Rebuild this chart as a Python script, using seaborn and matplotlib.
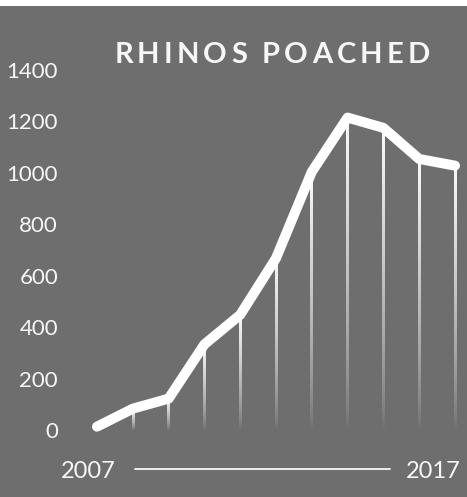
import numpy as np
import pandas as pd
import matplotlib
matplotlib.use("Agg")
import matplotlib.pyplot as plt
from matplotlib.patches import Rectangle
from matplotlib.lines import Line2D
import seaborn as sns

years = [2007, 2008, 2009, 2010, 2011, 2012, 2013, 2014, 2015, 2016, 2017]
poached = [13, 83, 122, 333, 448, 668, 1004, 1215, 1175, 1054, 1028]
yticks = [0, 200, 400, 600, 800, 1000, 1200, 1400]
title = "RHINOS POACHED"
start_label = "2007"
end_label = "2017"

BG = "#6e6e6e"
FG = "#f7f7f7"

sns.set_style("dark", {"axes.facecolor": BG, "figure.facecolor": BG})
plt.rcParams["font.family"] = ["Lato", "DejaVu Sans"]

W, H = 467, 497
fig = plt.figure(figsize=(W / 100, H / 100), dpi=100, facecolor=BG)
ax = fig.add_axes([90 / W, 57 / H, 372 / W, 380 / H])
ax.set_facecolor(BG)

df = pd.DataFrame({"year": years, "poached": poached})

# gradient vertical drop lines: white at the top fading into the background
n = 256
alpha = 0.97 * (np.linspace(1, 0, n) ** 0.75)
grad = np.ones((n, 1, 4))
grad[:, 0, 3] = alpha
half_w = 1.3 / 35.8  # ~1.3 px each side
for x, v in zip(years[1:], poached[1:]):
    ax.imshow(grad, extent=[x - half_w, x + half_w, 0, v], aspect="auto",
              interpolation="bilinear", origin="upper", zorder=2)

sns.lineplot(data=df, x="year", y="poached", ax=ax, color="white", linewidth=7.2,
             solid_capstyle="round", solid_joinstyle="round", zorder=5)

ax.set_xlim(2006.804, 2017.196)
ax.set_ylim(-38.9, 1438.9)
ax.set_aspect("auto")
ax.set_yticks(yticks)
ax.set_yticklabels([str(t) for t in yticks], color=FG, fontsize=16)
ax.tick_params(axis="y", length=0, pad=23)
ax.set_xticks([])
ax.set_xlabel("")
ax.set_ylabel("")
ax.grid(False)
for s in ax.spines.values():
    s.set_visible(False)

# letter-spaced title, drawn character by character
renderer = fig.canvas.get_renderer()
title_kw = dict(color=FG, fontsize=21, fontweight="bold", va="center", ha="left")
spacing = 4.2  # px between letters
widths = []
for ch in title:
    t = fig.text(0, 0, ch if ch != " " else "I", **title_kw)
    w = t.get_window_extent(renderer).width
    t.remove()
    widths.append(w * (0.75 if ch == " " else 1.0))
total = sum(widths) + spacing * (len(title) - 1)
x0 = 272 - total / 2
for ch, w in zip(title, widths):
    if ch != " ":
        fig.text(x0 / W, 1 - 55 / H, ch, **title_kw)
    x0 += w + spacing

fig.text(88 / W, 1 - 471 / H, start_label, color=FG, fontsize=17, ha="center", va="center")
fig.text(433 / W, 1 - 471 / H, end_label, color=FG, fontsize=17, ha="center", va="center")
fig.add_artist(Line2D([135 / W, 390 / W], [1 - 469 / H, 1 - 469 / H], transform=fig.transFigure,
                      color=FG, linewidth=1.3))

fig.add_artist(Rectangle((0, 1 - 6 / H), 1, 6 / H, transform=fig.transFigure,
                         facecolor="white", edgecolor="none", zorder=10))

fig.savefig("out.png", dpi=100, facecolor=BG)
